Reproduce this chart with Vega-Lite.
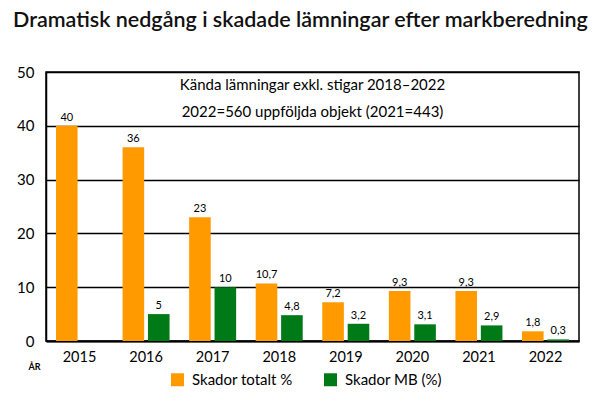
{
  "$schema": "https://vega.github.io/schema/vega-lite/v6.json",
  "width": 533,
  "height": 269,
  "autosize": {"type": "none"},
  "padding": {"left": 46, "top": 72, "right": 21, "bottom": 66},
  "background": "white",
  "config": {
    "font": "Lato",
    "view": {"stroke": "#000", "strokeWidth": 1.5},
    "locale": {"number": {"decimal": ",", "thousands": " ", "grouping": [3], "currency": ["", " kr"]}}
  },
  "title": {
    "text": "Dramatisk nedgång i skadade lämningar efter markberedning",
    "anchor": "start",
    "frame": "group",
    "dx": -33,
    "offset": 34,
    "fontSize": 21.5,
    "fontWeight": 600,
    "color": "#111"
  },
  "data": {
    "values": [
      {"year": "2015", "series": "Skador totalt %", "value": 40},
      {"year": "2016", "series": "Skador totalt %", "value": 36},
      {"year": "2016", "series": "Skador MB (%)", "value": 5},
      {"year": "2017", "series": "Skador totalt %", "value": 23},
      {"year": "2017", "series": "Skador MB (%)", "value": 10},
      {"year": "2018", "series": "Skador totalt %", "value": 10.7},
      {"year": "2018", "series": "Skador MB (%)", "value": 4.8},
      {"year": "2019", "series": "Skador totalt %", "value": 7.2},
      {"year": "2019", "series": "Skador MB (%)", "value": 3.2},
      {"year": "2020", "series": "Skador totalt %", "value": 9.3},
      {"year": "2020", "series": "Skador MB (%)", "value": 3.1},
      {"year": "2021", "series": "Skador totalt %", "value": 9.3},
      {"year": "2021", "series": "Skador MB (%)", "value": 2.9},
      {"year": "2022", "series": "Skador totalt %", "value": 1.8},
      {"year": "2022", "series": "Skador MB (%)", "value": 0.3}
    ]
  },
  "layer": [
    {
      "mark": {"type": "bar"},
      "encoding": {
        "x": {
          "field": "year",
          "type": "nominal",
          "scale": {"paddingInner": 0.294, "paddingOuter": 0.15},
          "axis": {
            "title": "ÅR",
            "titleAnchor": "start",
            "titleAngle": 0,
            "titleX": -18,
            "titleY": 21,
            "titleFontSize": 9,
            "titleFontWeight": "bold",
            "titleColor": "#000",
            "labelAngle": 0,
            "labelFontSize": 14.5,
            "labelColor": "#000",
            "labelPadding": 9,
            "ticks": false,
            "domainColor": "#000",
            "domainWidth": 2
          }
        },
        "y": {
          "field": "value",
          "type": "quantitative",
          "scale": {"domain": [0, 50], "nice": false},
          "axis": {
            "title": null,
            "values": [0, 5, 10, 15, 20, 25, 30, 35, 40, 45, 50],
            "labelExpr": "datum.value % 10 == 0 ? datum.label : ''",
            "labelFontSize": 15,
            "labelColor": "#000",
            "labelPadding": 12,
            "ticks": false,
            "domainColor": "#000",
            "domainWidth": 1.5,
            "gridColor": "#000",
            "gridWidth": 1.5,
            "gridOpacity": 1
          }
        },
        "xOffset": {
          "field": "series",
          "type": "nominal",
          "scale": {"domain": ["Skador totalt %", "Skador MB (%)"], "paddingInner": 0.15}
        },
        "color": {
          "field": "series",
          "type": "nominal",
          "scale": {"domain": ["Skador totalt %", "Skador MB (%)"], "range": ["#FF9A00", "#007A17"]},
          "legend": {
            "title": null,
            "orient": "none",
            "direction": "horizontal",
            "legendX": 124,
            "legendY": 300,
            "symbolType": "square",
            "symbolSize": 169,
            "symbolStrokeWidth": 0,
            "labelFontSize": 15,
            "labelColor": "#000",
            "labelOffset": 7,
            "columnPadding": 30
          }
        }
      }
    },
    {
      "mark": {"type": "text", "baseline": "bottom", "dy": -3, "fontSize": 11, "color": "#000"},
      "encoding": {
        "x": {"field": "year", "type": "nominal"},
        "y": {"field": "value", "type": "quantitative"},
        "xOffset": {"field": "series", "type": "nominal", "scale": {"domain": ["Skador totalt %", "Skador MB (%)"], "paddingInner": 0.15}},
        "text": {"field": "value", "type": "quantitative", "format": "~g"}
      }
    },
    {
      "data": {"values": [{"note": "Kända lämningar exkl. stigar 2018–2022"}]},
      "mark": {"type": "text", "fontSize": 15, "color": "#000", "baseline": "middle"},
      "encoding": {
        "y": {"datum": 47.5, "type": "quantitative"},
        "text": {"field": "note"}
      }
    },
    {
      "data": {"values": [{"note": "2022=560 uppföljda objekt (2021=443)"}]},
      "mark": {"type": "text", "fontSize": 15, "color": "#000", "baseline": "middle"},
      "encoding": {
        "y": {"datum": 42.5, "type": "quantitative"},
        "text": {"field": "note"}
      }
    }
  ]
}
